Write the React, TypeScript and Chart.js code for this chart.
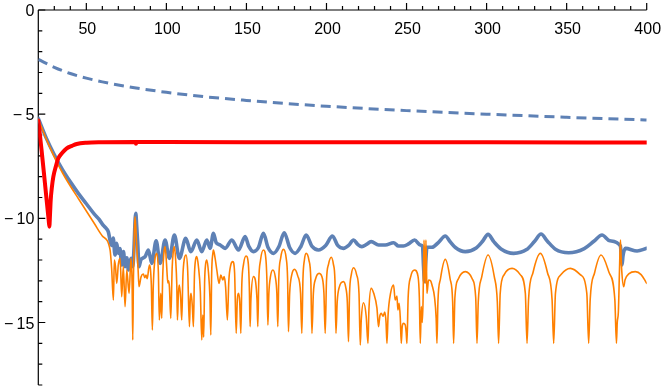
import React, { useEffect, useRef } from "react";
import { Chart, registerables } from "chart.js";

Chart.register(...registerables);

const xRange = [20, 400];
const yRange = [-18, 0];
const xMajorTicks = [50, 100, 150, 200, 250, 300, 350, 400];
const xMinorTicks = [30, 40, 60, 70, 80, 90, 110, 120, 130, 140, 160, 170, 180, 190, 210, 220, 230, 240, 260, 270, 280, 290, 310, 320, 330, 340, 360, 370, 380, 390];
const yMajorTicks = [0, -5, -10, -15];
const yMinorTicks = [-1, -2, -3, -4, -6, -7, -8, -9, -11, -12, -13, -14, -16, -17, -18];

const dashedCurve: number[][] = [
  [20, -2.37], [30, -2.75], [40, -3.05], [50, -3.27], [60, -3.45], [80, -3.73], [100, -3.95],
  [125, -4.17], [150, -4.34], [175, -4.49], [200, -4.62], [250, -4.83], [300, -5.0], [350, -5.15], [400, -5.28],
];

const redCurve: number[][] = [
  [20, -5.3], [22, -6.7], [24, -8.2], [25.9, -9.65], [26.5, -10.1], [26.9, -10.4], [27.3, -9.85], [27.75, -9.12],
  [28.5, -8.5], [29.4, -8.0], [31, -7.5], [32.5, -7.12], [35, -6.85], [37.75, -6.64], [41, -6.52], [44, -6.43],
  [50.25, -6.37], [60, -6.35], [80, -6.34], [80.6, -6.34], [81, -6.42], [81.5, -6.34], [100, -6.34], [200, -6.35],
  [300, -6.35], [400, -6.36],
];

const blueCurve: number[][] = [
  [20, -5.2], [25, -6.15], [30, -6.95], [35, -7.65], [40, -8.25], [45, -8.8], [50, -9.3], [55, -9.8], [58, -10.05],
  [60, -10.28], [62, -10.45], [63.75, -10.65], [65.2, -11.2], [65.9, -11.3], [66.8, -10.95], [67.9, -11.76],
  [69, -11.2], [70, -11.68], [71, -11.45], [72.1, -12.24], [73.2, -11.6], [74.2, -12.32], [75.3, -11.9],
  [76.25, -12.48], [77.9, -11.92], [79, -12.32], [79.8, -11.4], [80.5, -10.0], [80.9, -9.76], [81.4, -10.3],
  [82.1, -11.19], [82.9, -12.32], [84, -12.0], [85, -11.92], [86.7, -11.84], [88.75, -11.52], [90.9, -12.16],
  [93.6, -11.08], [96.1, -12.16], [99.2, -11.04], [101.9, -11.92], [105, -10.8], [108.1, -11.92], [112.1, -10.96],
  [115.25, -11.6], [119, -11.04], [122.1, -11.6], [125.25, -11.04], [127.3, -11.44], [129.4, -10.72], [131, -11.15],
  [133.6, -11.28], [136.7, -11.44], [140.9, -11.04], [145, -11.52], [149.2, -10.88], [151.5, -11.35], [154.4, -11.6],
  [157.5, -11.4], [160.6, -10.72], [163.5, -11.4], [166.9, -11.68], [170.3, -11.35], [173.6, -10.69], [177, -11.4],
  [180.4, -11.68], [184, -11.35], [187.3, -10.8], [191, -11.35], [195, -11.52], [199.5, -11.3], [203.75, -10.85],
  [207, -11.3], [210.6, -11.44], [213.8, -11.3], [216.9, -11.04], [219.5, -11.25], [222.1, -11.36], [225, -11.25],
  [227.9, -11.12], [232.5, -11.28], [236.7, -11.28], [241.9, -11.17], [245, -11.33], [248.1, -11.33], [251.25, -11.23],
  [255, -11.04], [258.6, -11.28], [260, -11.36], [260.6, -12.3], [261.25, -13.04], [261.9, -12.2], [262.75, -11.39],
  [265.9, -11.39], [270, -11.15], [274.2, -10.85], [277, -11.1], [280.5, -11.4], [286.7, -11.6], [293.5, -11.42],
  [297.5, -11.1], [300.9, -10.77], [304.5, -11.12], [309, -11.47], [316.9, -11.68], [325, -11.5], [330, -11.1],
  [334, -10.75], [338, -11.1], [343, -11.48], [351.25, -11.65], [361, -11.45], [367, -11.1], [372.1, -10.8],
  [377, -11.08], [383.6, -11.33], [384.2, -12.0], [384.6, -12.24], [385.2, -11.8], [386.7, -11.44], [394, -11.57],
  [400, -11.44],
];

const orangeCurve: number[][] = [
  [20, -5.25], [25, -6.2], [30, -7.05], [35, -7.8], [40, -8.45], [45, -9.05], [50, -9.65], [55, -10.25], [60, -10.85],
  [64.8, -11.5], [65.8, -12.4], [66.9, -13.92], [67.5, -12.0], [68.2, -12.3], [69, -13.12], [70, -12.2], [71.1, -11.92],
  [72.1, -13.76], [73.1, -12.32], [74.2, -14.24], [75.25, -12.48], [76.7, -13.6], [77.9, -11.92], [78.6, -13.2],
  [79, -15.84], [79.4, -13.0], [80, -10.6], [80.4, -9.92], [81, -10.6], [81.7, -11.67], [82.3, -12.4], [82.9, -13.28],
  [84.2, -12.8], [85.6, -12.67], [86.5, -12.85], [87.3, -12.72], [88, -12.9], [89.4, -12.24], [90.6, -13.2],
  [91.25, -15.36], [91.8, -13.3], [92.8, -12.0], [94, -11.68], [95, -12.6], [95.6, -14.88], [96.5, -13.6],
  [97.1, -14.8], [97.7, -12.8], [98.4, -11.7], [99.2, -11.36], [100.1, -12.2], [100.4, -12.6], [100.9, -13.1],
  [101.4, -13.0], [101.9, -13.3], [102.75, -14.8], [103.6, -12.4], [104.3, -11.6], [105, -11.36], [105.8, -12.0],
  [106.5, -13.2], [106.9, -14.88], [107.5, -13.6], [108.1, -13.2], [108.9, -13.8], [109.6, -14.88], [110.3, -12.8],
  [111.2, -11.95], [112.3, -11.76], [113.3, -12.5], [114.4, -15.2], [114.9, -13.9], [115.4, -13.6], [116.2, -14.2],
  [116.9, -15.2], [117.5, -12.8], [118.2, -12.0], [119, -11.84], [120, -12.3], [121.2, -13.5], [122.1, -15.84],
  [122.75, -14.64], [123.3, -15.7], [123.9, -13.0], [124.5, -12.2], [125.25, -12.0], [126.3, -12.6], [127.2, -13.8],
  [127.75, -15.6], [128.3, -12.6], [129, -11.7], [129.4, -11.52], [130.4, -11.9], [131.5, -12.48], [132.9, -13.12],
  [134, -12.72], [135.25, -12.96], [136.1, -12.8], [137, -13.3], [138.1, -14.88], [139, -13.0], [140.2, -12.25],
  [141.5, -12.08], [142.6, -12.6], [143.6, -15.52], [144.3, -13.9], [145, -13.6], [145.8, -14.0], [146.5, -15.52],
  [147.1, -13.2], [148.2, -12.2], [149.8, -11.81], [151.2, -12.2], [151.8, -13.3], [152.3, -15.2],
  [152.8, -13.9], [154.4, -12.8], [156.6, -13.9], [157.1, -15.2],
  [157.7, -13.0], [158.8, -12.0], [160.6, -11.52], [162.2, -12.0], [162.8, -13.0], [163.4, -15.12],
  [164, -13.6], [165, -12.8], [166.5, -12.48], [168, -12.8], [169, -13.6], [169.6, -15.2],
  [170.2, -12.9], [171.4, -11.9], [173.1, -11.49], [174.8, -11.9], [175.7, -12.9], [176.25, -15.44],
  [177, -13.6], [178.2, -12.75], [180, -12.45], [182, -12.75], [183.8, -13.6], [184.6, -15.52],
  [185.3, -12.9], [186.2, -12.0], [187.3, -11.68], [189, -12.0], [190.2, -12.9], [190.9, -15.52],
  [191.8, -13.6], [193.2, -12.9], [195.4, -12.64], [197.5, -12.9], [198.4, -13.6], [199.2, -15.52],
  [200, -13.0], [201.3, -12.2], [203, -11.87], [204.3, -12.2], [205.3, -13.0], [205.9, -15.52],
  [206.7, -14.0], [208, -13.3], [210.6, -13.04], [212, -13.3], [213, -14.0], [213.75, -15.92],
  [214.4, -13.6], [215.5, -12.7], [216.9, -12.37], [218.8, -12.7], [220.3, -13.6], [221.1, -16.08],
  [221.7, -14.9], [223.1, -14.05], [224.8, -14.7], [225.9, -16.0],
  [226.5, -14.4], [227.9, -13.36], [229.5, -13.6], [231.5, -14.3], [232.5, -15.2],
  [233.3, -14.7], [234.2, -14.56], [235.3, -14.7], [236.4, -14.5], [237.2, -15.0], [237.75, -16.0],
  [238.5, -14.6], [240, -13.6], [241.9, -13.2], [242.9, -13.92], [244, -13.73], [244.6, -14.4], [245.4, -14.08],
  [246.1, -14.8], [246.7, -16.0], [247.3, -15.2], [248.1, -15.04], [249.2, -15.12], [249.8, -15.5], [250.25, -16.0],
  [251, -13.8], [252.6, -12.8], [255, -12.48], [257.2, -12.8], [258, -13.8], [258.6, -16.0],
  [259.2, -14.24], [259.8, -15.0], [260.3, -14.0], [260.9, -11.04], [261.3, -12.2], [261.7, -13.12], [262.1, -11.04],
  [262.5, -12.5], [262.75, -13.6], [263.75, -12.96], [265, -13.0], [265.9, -13.2], [267.5, -13.8], [268.5, -14.8], [269, -16.0],
  [269.6, -14.0], [271.2, -12.9], [274.2, -11.97], [277.2, -12.9], [278.8, -14.0], [279.4, -16.0],
  [280.2, -13.8], [282.4, -12.9], [286.7, -12.56], [291, -12.9], [293.2, -13.8], [294, -16.0],
  [294.8, -14.0], [297, -12.8], [300.9, -11.76], [304.8, -12.8], [306.7, -14.0], [307.5, -16.0],
  [308.5, -13.6], [311, -12.7], [315.9, -12.4], [321, -12.7], [324.2, -13.6], [325.25, -16.0],
  [326.2, -13.9], [329, -12.6], [333.6, -11.68], [338, -12.6], [340.9, -13.9], [341.9, -16.0],
  [343, -13.6], [346.5, -12.7], [352.3, -12.4], [358.5, -12.7], [362.6, -13.6], [363.75, -16.0],
  [364.7, -13.9], [367.5, -12.6], [371.5, -11.76], [376.5, -12.6], [380.1, -13.9], [381.1, -16.0],
  [381.6, -15.0], [382.3, -14.5], [383, -12.5], [383.6, -11.04], [384, -11.8], [384.4, -12.5], [385.6, -13.28],
  [386.5, -12.95], [389, -12.65], [392.9, -12.56], [396.5, -12.7], [400, -13.12],
];

const BLUE = "#5E81B5";
const ORANGE = "#FF8000";
const RED = "#FF0000";
const FONT = '16px "Liberation Sans", Arial, sans-serif';

function fmt(v: number): string {
  return v < 0 ? "\u2212\u2009" + Math.abs(v) : String(v);
}

const axesPlugin = {
  id: "mmaAxes",
  beforeDatasetsDraw(chart: any) {
    const { ctx, scales } = chart;
    const xs = scales.x;
    const ys = scales.y;
    const x0 = xs.getPixelForValue(xRange[0]);
    const x1 = xs.getPixelForValue(xRange[1]);
    const y0 = ys.getPixelForValue(0);
    const yb = ys.getPixelForValue(yRange[0]);
    ctx.save();
    ctx.strokeStyle = "#000";
    ctx.lineWidth = 1.2;
    ctx.beginPath();
    ctx.moveTo(x0, y0);
    ctx.lineTo(x1, y0);
    ctx.moveTo(x0, y0);
    ctx.lineTo(x0, yb);
    ctx.stroke();
    ctx.beginPath();
    for (const t of xMajorTicks) {
      const p = xs.getPixelForValue(t);
      ctx.moveTo(p, y0);
      ctx.lineTo(p, y0 - 7);
    }
    for (const t of xMinorTicks) {
      const p = xs.getPixelForValue(t);
      ctx.moveTo(p, y0);
      ctx.lineTo(p, y0 - 4);
    }
    for (const t of yMajorTicks) {
      const p = ys.getPixelForValue(t);
      ctx.moveTo(x0, p);
      ctx.lineTo(x0 + 7, p);
    }
    for (const t of yMinorTicks) {
      const p = ys.getPixelForValue(t);
      ctx.moveTo(x0, p);
      ctx.lineTo(x0 + 4, p);
    }
    ctx.stroke();
    ctx.fillStyle = "#000";
    ctx.font = FONT;
    ctx.textBaseline = "alphabetic";
    ctx.textAlign = "center";
    for (const t of xMajorTicks) {
      ctx.fillText(fmt(t), xs.getPixelForValue(t) + 1, y0 + 23.5);
    }
    ctx.textAlign = "right";
    for (const t of yMajorTicks) {
      ctx.fillText(fmt(t), x0 - 4, ys.getPixelForValue(t) + 6);
    }
    ctx.restore();
  },
};

const toPts = (a: number[][]) => a.map(([x, y]) => ({ x, y }));

export default function App() {
  const ref = useRef<HTMLCanvasElement>(null);
  useEffect(() => {
    const canvas = ref.current;
    if (!canvas) return;
    const chart = new Chart(canvas, {
      type: "line",
      data: {
        datasets: [
          { data: toPts(redCurve), borderColor: RED, borderWidth: 4, order: 0 },
          { data: toPts(orangeCurve), borderColor: ORANGE, borderWidth: 1.6, order: 1 },
          { data: toPts(blueCurve), borderColor: BLUE, borderWidth: 3.6, order: 2 },
          { data: toPts(dashedCurve), borderColor: BLUE, borderWidth: 3, borderDash: [10, 6], borderCapStyle: "butt", order: 3 },
        ] as any,
      },
      options: {
        responsive: false,
        animation: false,
        events: [],
        layout: { padding: { left: 38.3, top: 10, right: 17.3, bottom: 3 } },
        plugins: { legend: { display: false }, tooltip: { enabled: false } },
        elements: {
          point: { radius: 0 },
          line: { cubicInterpolationMode: "monotone", borderJoinStyle: "round", borderCapStyle: "round", fill: false },
        },
        scales: {
          x: { type: "linear", min: xRange[0], max: xRange[1], display: false },
          y: { type: "linear", min: yRange[0], max: yRange[1], display: false },
        },
      } as any,
      plugins: [axesPlugin],
    });
    return () => chart.destroy();
  }, []);
  return (
    <div style={{ position: "absolute", left: 0, top: 0, width: 664, height: 388, background: "#fff" }}>
      <canvas ref={ref} width={664} height={388} style={{ display: "block", width: 664, height: 388 }} />
    </div>
  );
}
